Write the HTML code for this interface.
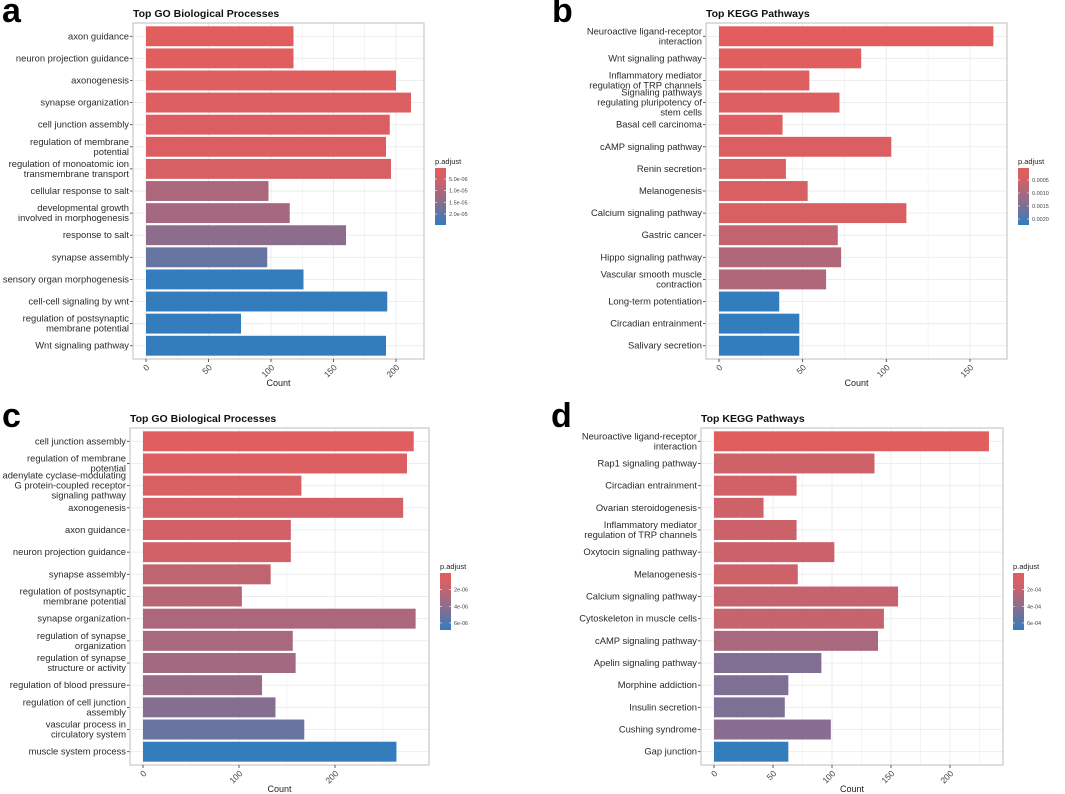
<!DOCTYPE html>
<html><head><meta charset="utf-8"><style>
body{margin:0;background:#fff}
svg{display:block;font-family:"Liberation Sans",sans-serif}
</style></head><body>
<svg id="fig" width="1065" height="794" viewBox="0 0 1065 794"></svg>
<script>
// ---- Panel a data ----
const aCats=["axon guidance","neuron projection guidance","axonogenesis","synapse organization","cell junction assembly","regulation of membrane\npotential","regulation of monoatomic ion\ntransmembrane transport","cellular response to salt","developmental growth\ninvolved in morphogenesis","response to salt","synapse assembly","sensory organ morphogenesis","cell-cell signaling by wnt","regulation of postsynaptic\nmembrane potential","Wnt signaling pathway"];
const aCounts=[118,118,200,212,195,192,196,98,115,160,97,126,193,76,192];
const aPadj=[1e-6,1e-6,1.5e-6,2e-6,2.5e-6,2.5e-6,3.5e-6,1.05e-5,1.15e-5,1.45e-5,1.9e-5,2.45e-5,2.45e-5,2.45e-5,2.45e-5];
const aTicks=[0,50,100,150,200];
const aLegTicks=[5e-6,1e-5,1.5e-5,2e-5];
const aLegLabels=["5.0e-06","1.0e-05","1.5e-05","2.0e-05"];
// ---- Panel b data ----
const bCats=["Neuroactive ligand-receptor\ninteraction","Wnt signaling pathway","Inflammatory mediator\nregulation of TRP channels","Signaling pathways\nregulating pluripotency of\nstem cells","Basal cell carcinoma","cAMP signaling pathway","Renin secretion","Melanogenesis","Calcium signaling pathway","Gastric cancer","Hippo signaling pathway","Vascular smooth muscle\ncontraction","Long-term potentiation","Circadian entrainment","Salivary secretion"];
const bCounts=[164,85,54,72,38,103,40,53,112,71,73,64,36,48,48];
const bPadj=[0.00005,0.0001,0.00015,0.0002,0.0002,0.00025,0.0003,0.0003,0.0003,0.00065,0.0009,0.0009,0.00222,0.00222,0.00222];
const bTicks=[0,50,100,150];
const bLegTicks=[0.0005,0.001,0.0015,0.002];
const bLegLabels=["0.0005","0.0010","0.0015","0.0020"];
// ---- Panel c data ----
const cCats=["cell junction assembly","regulation of membrane\npotential","adenylate cyclase-modulating\nG protein-coupled receptor\nsignaling pathway","axonogenesis","axon guidance","neuron projection guidance","synapse assembly","regulation of postsynaptic\nmembrane potential","synapse organization","regulation of synapse\norganization","regulation of synapse\nstructure or activity","regulation of blood pressure","regulation of cell junction\nassembly","vascular process in\ncirculatory system","muscle system process"];
const cCounts=[282,275,165,271,154,154,133,103,284,156,159,124,138,168,264];
const cPadj=[0.2e-6,0.5e-6,0.8e-6,1.0e-6,1.2e-6,1.2e-6,2.0e-6,2.4e-6,2.8e-6,3.0e-6,3.2e-6,3.6e-6,4.3e-6,5.2e-6,6.8e-6];
const cTicks=[0,100,200];
const cLegTicks=[2e-6,4e-6,6e-6];
const cLegLabels=["2e-06","4e-06","6e-06"];
// ---- Panel d data ----
const dCats=["Neuroactive ligand-receptor\ninteraction","Rap1 signaling pathway","Circadian entrainment","Ovarian steroidogenesis","Inflammatory mediator\nregulation of TRP channels","Oxytocin signaling pathway","Melanogenesis","Calcium signaling pathway","Cytoskeleton in muscle cells","cAMP signaling pathway","Apelin signaling pathway","Morphine addiction","Insulin secretion","Cushing syndrome","Gap junction"];
const dCounts=[233,136,70,42,70,102,71,156,144,139,91,63,60,99,63];
const dPadj=[0.1e-4,1.3e-4,1.2e-4,1.3e-4,1.5e-4,1.5e-4,1.4e-4,1.8e-4,1.8e-4,3.0e-4,4.4e-4,4.5e-4,4.5e-4,4.2e-4,6.8e-4];
const dTicks=[0,50,100,150,200];
const dLegTicks=[2e-4,4e-4,6e-4];
const dLegLabels=["2e-04","4e-04","6e-04"];

const NS="http://www.w3.org/2000/svg";
const svg=document.getElementById('fig');
function mk(tag,attrs,parent){const e=document.createElementNS(NS,tag);for(const k in attrs)e.setAttribute(k,attrs[k]);(parent||svg).appendChild(e);return e;}
const RED=[226,94,94],BLUE=[49,125,190];
function col(t){t=Math.max(0,Math.min(1,t));t=Math.pow(t,1.35);const c=RED.map((r,i)=>Math.round(r+(BLUE[i]-r)*t));return `rgb(${c[0]},${c[1]},${c[2]})`;}

function panel(o){
  const g=mk('g',{});
  
  
  const L=mk('text',{x:o.letterX,y:o.letterY,'font-size':34,'font-weight':'bold',fill:'#000'},g);
  L.textContent=o.id;
  
  
  const T=mk('text',{x:o.x0,y:o.y0-6,'font-size':10.5,'font-weight':'bold',fill:'#111'},g);
  T.textContent=o.title;
  
  
  const bg=mk('rect',{x:o.x0,y:o.y0,width:o.x1-o.x0,height:o.y1-o.y0,fill:'#fff'},g);
  
  
  const xs=v=>o.zero+v*o.ppu;
  const n=o.cats.length;
  const step=(o.y1-o.y0)/(n+0.2);
  const ys=i=>o.y0+step*(0.6+i);
  const ticks=o.ticks;
  const d=ticks[1]-ticks[0];
  for(let v=ticks[0]-d/2;xs(v)<=o.x1;v+=d/2){
    if(xs(v)<o.x0)continue;
    const major=Math.abs(v/d-Math.round(v/d))<1e-6;
    mk('line',{x1:xs(v),x2:xs(v),y1:o.y0,y2:o.y1,stroke:'#ebebeb','stroke-width':major?0.9:0.5},g);
  }
  for(let i=0;i<n;i++){mk('line',{x1:o.x0,x2:o.x1,y1:ys(i),y2:ys(i),stroke:'#ebebeb','stroke-width':0.9},g);}
  const pmin=o.legMin,pmax=o.legMax;
  for(let i=0;i<n;i++){
    const r=mk('rect',{x:xs(0),y:ys(i)-step*0.45,width:xs(o.counts[i])-xs(0),height:step*0.9,fill:col((o.padj[i]-pmin)/(pmax-pmin))},g);
    
    
    mk('line',{x1:o.x0-3,x2:o.x0,y1:ys(i),y2:ys(i),stroke:'#333','stroke-width':0.8},g);
    const lines=o.cats[i].split('\n');
    const t=mk('text',{x:o.x0-4,y:ys(i)+3-(lines.length-1)*5,'font-size':9.4,'text-anchor':'end',fill:'#2a2a2a'},g);
    
    
    lines.forEach((ln,k)=>{const s=mk('tspan',{x:o.x0-4,dy:k?10:0},t);s.textContent=ln;});
  }
  const border=mk('rect',{x:o.x0,y:o.y0,width:o.x1-o.x0,height:o.y1-o.y0,fill:'none',stroke:'#c8c8c8','stroke-width':1.2},g);
  
  
  ticks.forEach(v=>{
    mk('line',{x1:xs(v),x2:xs(v),y1:o.y1,y2:o.y1+3,stroke:'#333','stroke-width':0.8},g);
    const t=mk('text',{x:0,y:0,'font-size':8.5,fill:'#444','text-anchor':'end',transform:`translate(${xs(v)+4} ${o.y1+9}) rotate(-45)`},g);
    t.textContent=v;
    
    
  });
  const xt=mk('text',{x:(o.x0+o.x1)/2,y:o.y1+27,'font-size':9,fill:'#222','text-anchor':'middle'},g);
  xt.textContent='Count';
  
  
  const lx=o.legX,ly=o.legY,lh=57;
  const gid='grad'+o.id;
  const defs=mk('defs',{},g);
  const lg=mk('linearGradient',{id:gid,x1:0,y1:0,x2:0,y2:1},defs);
  for(let k=0;k<=10;k++){mk('stop',{offset:(k*10)+'%','stop-color':col(k/10)},lg);}
  const lt=mk('text',{x:lx,y:ly-4,'font-size':7.5,fill:'#222'},g);
  lt.textContent='p.adjust';
  
  
  const cb=mk('rect',{x:lx,y:ly,width:11,height:lh,fill:`url(#${gid})`},g);
  
  
  o.legTicks.forEach((v,k)=>{
    const y=ly+(v-pmin)/(pmax-pmin)*lh;
    mk('line',{x1:lx,x2:lx+2,y1:y,y2:y,stroke:'#fff','stroke-width':0.6},g);
    mk('line',{x1:lx+9,x2:lx+11,y1:y,y2:y,stroke:'#fff','stroke-width':0.6},g);
    const t=mk('text',{x:lx+14,y:y+2,'font-size':5.5,fill:'#444'},g);
    t.textContent=o.legLabels[k];
    
    
  });
}
panel({id:'a',title:'Top GO Biological Processes',cats:aCats,counts:aCounts,padj:aPadj,ticks:aTicks,legTicks:aLegTicks,legLabels:aLegLabels,
  x0:133,x1:424,y0:23,y1:359,zero:146,ppu:1.25,letterX:2,letterY:22,legX:435,legY:168,legMin:0.3e-6,legMax:2.47e-5});
panel({id:'b',title:'Top KEGG Pathways',cats:bCats,counts:bCounts,padj:bPadj,ticks:bTicks,legTicks:bLegTicks,legLabels:bLegLabels,
  x0:706,x1:1007,y0:23,y1:359,zero:719,ppu:1.673,letterX:552,letterY:22,legX:1018,legY:168,legMin:0.00004,legMax:0.00223});
panel({id:'c',title:'Top GO Biological Processes',cats:cCats,counts:cCounts,padj:cPadj,ticks:cTicks,legTicks:cLegTicks,legLabels:cLegLabels,
  x0:130,x1:429,y0:428,y1:765,zero:143,ppu:0.96,letterX:2,letterY:427,legX:440,legY:573,legMin:0,legMax:6.85e-6});
panel({id:'d',title:'Top KEGG Pathways',cats:dCats,counts:dCounts,padj:dPadj,ticks:dTicks,legTicks:dLegTicks,legLabels:dLegLabels,
  x0:701,x1:1003,y0:428,y1:765,zero:714,ppu:1.18,letterX:551,letterY:427,legX:1013,legY:573,legMin:0,legMax:6.85e-4});
</script>
</body></html>
